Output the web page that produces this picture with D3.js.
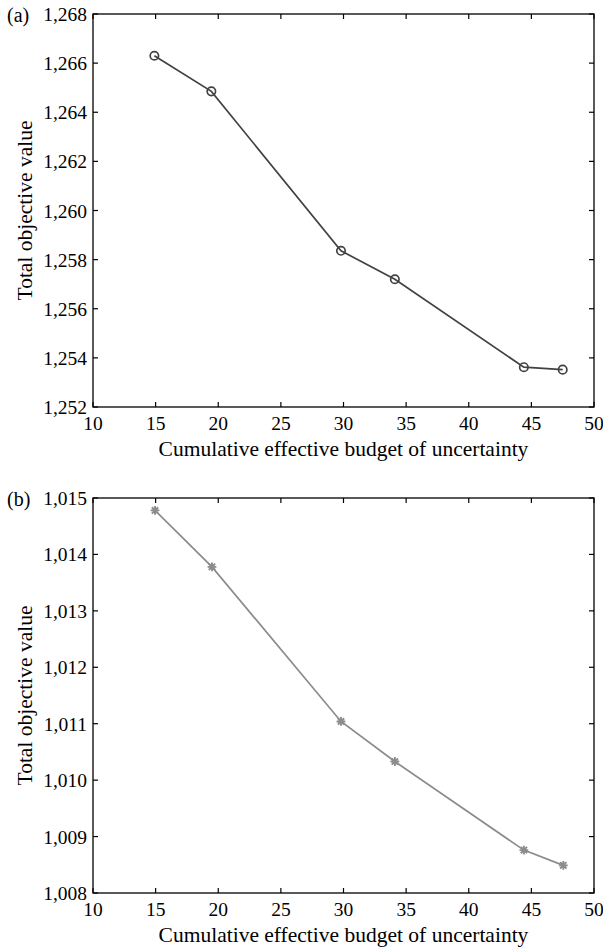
<!DOCTYPE html>
<html>
<head>
<meta charset="utf-8">
<script src="https://cdn.jsdelivr.net/npm/d3@7"></script>
<style>
  body { margin: 0; background: #fff; }
  svg text { font-family: 'Liberation Serif', 'Times New Roman', serif; fill: #000; }
</style>
</head>
<body>
<div id="chart"></div>
<script>
// Budget of uncertainty (x) and total objective value (y) per panel
var budgetA = [14.9, 19.45, 29.8, 34.1, 44.4, 47.5];
var valuesA = [1266.3, 1264.85, 1258.36, 1257.2, 1253.62, 1253.52];

var budgetB = [14.95, 19.5, 29.8, 34.1, 44.4, 47.55];
var valuesB = [1014.78, 1013.78, 1011.04, 1010.33, 1008.76, 1008.49];

var xTicks = [10, 15, 20, 25, 30, 35, 40, 45, 50];
var yTicksA = [1252, 1254, 1256, 1258, 1260, 1262, 1264, 1266, 1268];
var yTicksB = [1008, 1009, 1010, 1011, 1012, 1013, 1014, 1015];

var w = 603, h = 952;
var svg = d3.select("#chart").append("svg")
    .attr("width", w)
    .attr("height", h);

var fmt = d3.format(",");

function panel(opts) {
    var x = d3.scaleLinear().domain([10, 50]).range([93, 594]);
    var y = d3.scaleLinear().domain(opts.yDomain).range([opts.bottom, opts.top]);
    var g = svg.append("g");
    var tick = 5;

    // frame
    g.append("rect")
        .attr("x", x.range()[0]).attr("y", opts.top)
        .attr("width", x.range()[1] - x.range()[0])
        .attr("height", opts.bottom - opts.top)
        .attr("fill", "none").attr("stroke", "#000").attr("stroke-width", 1.3);

    // x ticks, inward on bottom and top
    xTicks.forEach(function (t) {
        g.append("line").attr("x1", x(t)).attr("x2", x(t))
            .attr("y1", opts.bottom).attr("y2", opts.bottom - tick)
            .attr("stroke", "#000").attr("stroke-width", 1.2);
        g.append("line").attr("x1", x(t)).attr("x2", x(t))
            .attr("y1", opts.top).attr("y2", opts.top + tick)
            .attr("stroke", "#000").attr("stroke-width", 1.2);
        g.append("text").attr("x", x(t)).attr("y", opts.bottom + 23)
            .attr("text-anchor", "middle")
            .style("font-size", "19.5px")
            .text(t);
    });

    // y ticks, inward on left and right
    opts.yTicks.forEach(function (t) {
        g.append("line").attr("x1", x.range()[0]).attr("x2", x.range()[0] + tick)
            .attr("y1", y(t)).attr("y2", y(t)).attr("stroke", "#000").attr("stroke-width", 1.2);
        g.append("line").attr("x1", x.range()[1]).attr("x2", x.range()[1] - tick)
            .attr("y1", y(t)).attr("y2", y(t)).attr("stroke", "#000").attr("stroke-width", 1.2);
        g.append("text").attr("x", 87).attr("y", y(t) + 7)
            .attr("text-anchor", "end")
            .style("font-size", "19.5px")
            .text(fmt(t));
    });

    // axis titles
    g.append("text")
        .attr("x", (x.range()[0] + x.range()[1]) / 2)
        .attr("y", opts.bottom + 49)
        .attr("text-anchor", "middle")
        .style("font-size", "21.5px")
        .text("Cumulative effective budget of uncertainty");
    g.append("text")
        .attr("transform", "translate(32," + ((opts.top + opts.bottom) / 2) + ") rotate(-90)")
        .attr("text-anchor", "middle")
        .style("font-size", "21.5px")
        .text("Total objective value");

    // panel label
    g.append("text").attr("x", 7).attr("y", opts.top + 8)
        .style("font-size", "20px").text(opts.label);

    var pts = opts.xs.map(function (d, i) { return [d, opts.ys[i]]; });
    var line = d3.line().x(function (d) { return x(d[0]); }).y(function (d) { return y(d[1]); });
    g.append("path").datum(pts).attr("d", line)
        .attr("fill", "none").attr("stroke", opts.color).attr("stroke-width", 1.7);

    if (opts.marker === "circle") {
        g.selectAll("circle").data(pts).enter().append("circle")
            .attr("cx", function (d) { return x(d[0]); })
            .attr("cy", function (d) { return y(d[1]); })
            .attr("r", 4.2)
            .attr("fill", "none").attr("stroke", opts.color).attr("stroke-width", 1.7);
    } else {
        var r = 4.4, r2 = r * 0.72;
        var star = "M" + (-r) + ",0L" + r + ",0M0," + (-r) + "L0," + r +
            "M" + (-r2) + "," + (-r2) + "L" + r2 + "," + r2 +
            "M" + (-r2) + "," + r2 + "L" + r2 + "," + (-r2);
        g.selectAll(".star").data(pts).enter().append("path")
            .attr("class", "star")
            .attr("transform", function (d) { return "translate(" + x(d[0]) + "," + y(d[1]) + ")"; })
            .attr("d", star)
            .attr("fill", "none").attr("stroke", opts.color).attr("stroke-width", 1.9);
    }
}

panel({
    label: "(a)", top: 14, bottom: 407, yDomain: [1252, 1268], yTicks: yTicksA,
    xs: budgetA, ys: valuesA, color: "#424242", marker: "circle"
});
panel({
    label: "(b)", top: 498, bottom: 893, yDomain: [1008, 1015], yTicks: yTicksB,
    xs: budgetB, ys: valuesB, color: "#8c8c8c", marker: "star"
});
</script>
</body>
</html>
